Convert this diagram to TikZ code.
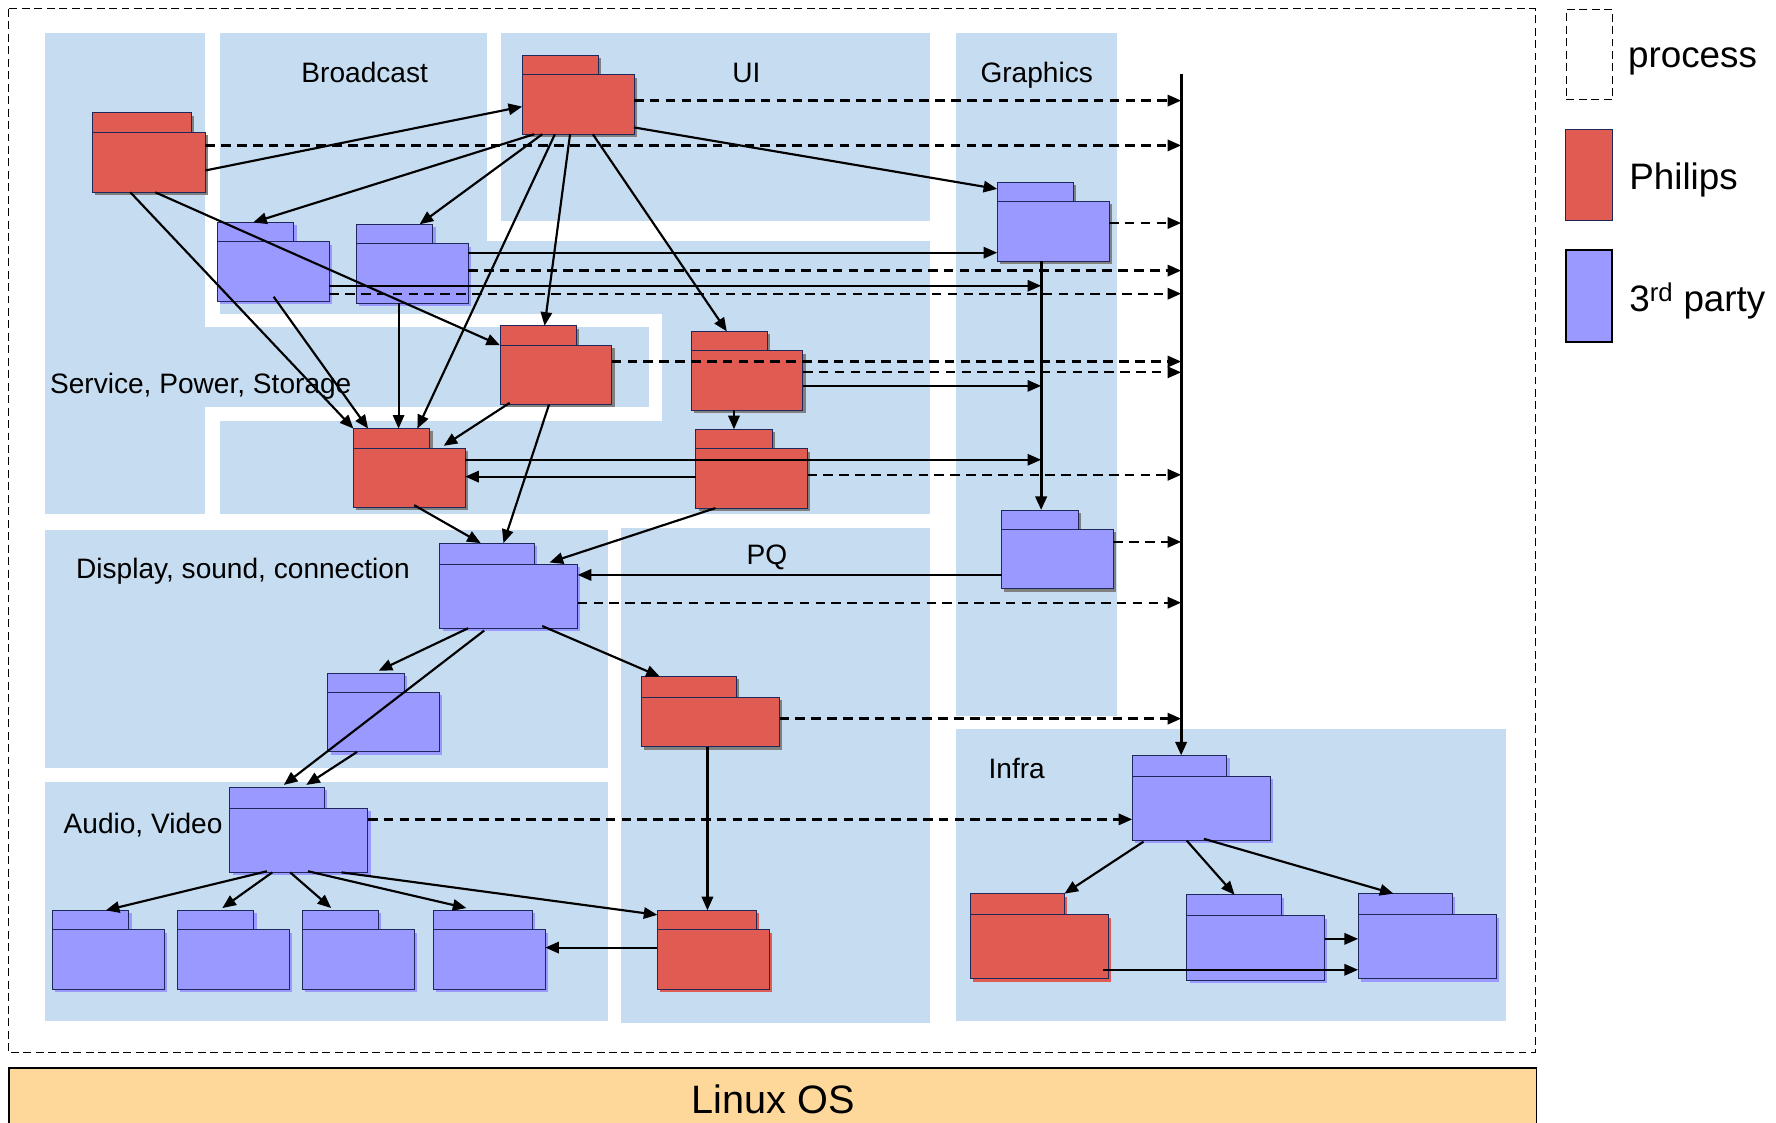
\documentclass[tikz,border=0pt]{standalone}
\usepackage{fontspec}
\setmainfont{Liberation Sans}
\usetikzlibrary{arrows.meta,calc,shadows}

\definecolor{areablue}{RGB}{198,220,240}
\definecolor{philred}{RGB}{224,92,82}
\definecolor{partyblue}{RGB}{153,153,255}
\definecolor{pkgline}{RGB}{30,40,90}
\definecolor{shadowgray}{RGB}{128,128,128}
\definecolor{osorange}{RGB}{253,216,154}

\begin{document}
\begin{tikzpicture}[x=1pt,y=-1pt,
    area/.style={fill=areablue},
    process/.style={draw=black, line width=0.9pt, dash pattern=on 7pt off 4pt},
    pkg/.style={draw=pkgline, line width=0.8pt, inner sep=0pt, outer sep=0pt, anchor=north west},
    phil/.style={pkg, fill=philred, drop shadow={shadow xshift=2.5pt, shadow yshift=-2.5pt, opacity=1, fill=#1}},
    phil/.default=shadowgray,
    party/.style={pkg, fill=partyblue, drop shadow={shadow xshift=2.5pt, shadow yshift=-2.5pt, opacity=1, fill=#1}},
    party/.default=partyblue,
    tab/.style={minimum width=67.5pt, minimum height=17.2pt},
    body/.style={minimum width=98.7pt, minimum height=52.4pt},
    widetab/.style={minimum width=83.4pt, minimum height=18.6pt},
    wide/.style={minimum width=121.8pt, minimum height=56.6pt},
    dep/.style={-{Triangle[length=12pt,width=10pt]}, line width=1.9pt},
    ipc/.style={dep, line width=2.1pt, dash pattern=on 8.5pt off 5.5pt},
    lbl/.style={inner sep=0pt, font=\fontsize{24.8}{29}\selectfont},
    leg/.style={inner sep=0pt, anchor=base west, font=\fontsize{32.5}{38}\selectfont},
    osbar/.style={draw=black, line width=1.6pt, fill=osorange, anchor=north west, inner sep=0pt,
      minimum width=1348.3pt, minimum height=55pt, text height=25pt, text depth=0pt,
      font=\fontsize{35}{40}\selectfont}]
  \useasboundingbox (0,0) rectangle (1568,991);

  \fill[area] (39.8,29) rectangle (181.3,454);
  \fill[area] (194,29) rectangle (430,277.5);
  \fill[area] (442,29) rectangle (821,195);
  \fill[area] (194,213) rectangle (821,454);
  \fill[white] (181.3,277.5) rectangle (584.4,371.4);
  \fill[area] (181.3,288.5) rectangle (572.6,359.4);
  \fill[area] (844,29) rectangle (986,632);
  \fill[area] (39.8,467.6) rectangle (536.8,678);
  \fill[area] (39.8,690.6) rectangle (536.8,901);
  \fill[area] (548.2,466) rectangle (821,903);
  \fill[area] (844,643.5) rectangle (1329.4,901);
  \draw[process] (7.1,7.9) rectangle (1355.8,929.3);

  \node[lbl, anchor=base] (lblBroadcast) at (322,73) {Broadcast};
  \node[lbl, anchor=base] (lblUi) at (659,73) {UI};
  \node[lbl, anchor=base] (lblGfx) at (915.3,73) {Graphics};
  \node[lbl, anchor=base west] (lblSps) at (44,347) {Service, Power, Storage};
  \node[lbl, anchor=base west] (lblDsc) at (67,510.7) {Display, sound, connection};
  \node[lbl, anchor=base west] (lblAv) at (56,735.8) {Audio, Video};
  \node[lbl, anchor=base] (lblPq) at (677,498.8) {PQ};
  \node[lbl, anchor=base west] (lblInfra) at (872.6,687.6) {Infra};

  \node[phil, tab, minimum width=87.4pt] (spsTab) at (81.6,99.6) {};
  \node[phil, body, minimum width=99.7pt, minimum height=53pt] (sps) at (spsTab.south west) {};
  \node[phil, tab] (uiMainTab) at (461,48.9) {};
  \node[phil, body] (uiMain) at (uiMainTab.south west) {};
  \node[party, tab] (bcATab) at (192,196.4) {};
  \node[party, body] (bcA) at (bcATab.south west) {};
  \node[party, tab] (bcBTab) at (314.5,198) {};
  \node[party, body] (bcB) at (bcBTab.south west) {};
  \node[phil, tab] (spsMidTab) at (441.4,287.6) {};
  \node[phil, body] (spsMid) at (spsMidTab.south west) {};
  \node[phil, tab] (spsLowTab) at (312,378.4) {};
  \node[phil, body] (spsLow) at (spsLowTab.south west) {};
  \node[phil, tab] (uiATab) at (610.2,292.6) {};
  \node[phil, body] (uiA) at (uiATab.south west) {};
  \node[phil, tab] (uiBTab) at (614.3,379) {};
  \node[phil, body] (uiB) at (uiBTab.south west) {};
  \node[party=shadowgray, tab] (gfxATab) at (880.4,160.8) {};
  \node[party=shadowgray, body] (gfxA) at (gfxATab.south west) {};
  \node[party=shadowgray, tab] (gfxBTab) at (884.2,450.3) {};
  \node[party=shadowgray, body] (gfxB) at (gfxBTab.south west) {};
  \node[party, widetab] (dscTab) at (388.2,479.5) {};
  \node[party, wide] (dsc) at (dscTab.south west) {};
  \node[party, tab] (dscBTab) at (289.3,594.2) {};
  \node[party, body] (dscB) at (dscBTab.south west) {};
  \node[party, widetab] (avTab) at (203,695) {};
  \node[party, wide] (av) at (avTab.south west) {};
  \node[party, tab] (avATab) at (46.1,803.7) {};
  \node[party, body] (avA) at (avATab.south west) {};
  \node[party, tab] (avBTab) at (156.5,803.7) {};
  \node[party, body] (avB) at (avBTab.south west) {};
  \node[party, tab] (avCTab) at (266.8,803.7) {};
  \node[party, body] (avC) at (avCTab.south west) {};
  \node[party, tab, minimum width=87.1pt] (avDTab) at (382.7,803.7) {};
  \node[party, body] (avD) at (avDTab.south west) {};
  \node[phil, widetab] (pqATab) at (566.5,597.3) {};
  \node[phil, wide, minimum height=43.4pt] (pqA) at (pqATab.south west) {};
  \node[phil=philred, tab, minimum width=87.5pt] (pqBTab) at (580.4,803.7) {};
  \node[phil=philred, body] (pqB) at (pqBTab.south west) {};
  \node[party, widetab] (infraTab) at (999.6,666.9) {};
  \node[party, wide] (infra) at (infraTab.south west) {};
  \node[phil=philred, widetab] (infraATab) at (856.4,789) {};
  \node[phil=philred, wide] (infraA) at (infraATab.south west) {};
  \node[party, widetab] (infraBTab) at (1047.7,790) {};
  \node[party, wide] (infraB) at (infraBTab.south west) {};
  \node[party, widetab] (infraCTab) at (1199,789) {};
  \node[party, wide] (infraC) at (infraCTab.south west) {};

  \coordinate (busTop) at (1042.8,65.6);
  \coordinate (gfxLine) at ($(gfxA.south west)+(38.8,0)$);
  \draw[dep, line width=2.6pt] (busTop) -- (busTop |- infraTab.north);
  \draw[dep, line width=2.5pt] (gfxLine) -- (gfxLine |- gfxBTab.north);

  \draw[dep] ($(sps.north east)+(0,33.7)$) -- ($(uiMain.north west)+(0,28)$);
  \draw[dep] ($(uiMain.north east)+(0,46.4)$) -- ($(gfxATab.north west)+(0,6)$);
  \draw[dep] ($(uiMain.south west)+(10.7,0)$) -- ($(bcATab.north west)+(31.5,0)$);
  \draw[dep] ($(uiMain.south west)+(17.8,0)$) -- ($(bcBTab.north west)+(56,0)$);
  \draw[dep] ($(uiMain.south west)+(28.9,0)$) -- ($(spsLowTab.north west)+(56.5,0)$);
  \draw[dep] ($(uiMain.south west)+(42.3,0)$) -- ($(spsMidTab.north west)+(39.4,0)$);
  \draw[dep] ($(uiMain.south west)+(62.4,0)$) -- ($(uiATab.north west)+(31.5,0)$);
  \draw[dep] ($(sps.south west)+(55.5,0)$) -- (spsMid.north west);
  \draw[dep] ($(sps.south west)+(33.5,0)$) -- (spsLowTab.north west);
  \draw[dep] ($(bcA.south west)+(49.6,-4)$) -- ($(spsLowTab.north west)+(13,0)$);
  \coordinate (bcBdown) at ($(bcB.south west)+(37.4,0)$);
  \draw[dep] (bcBdown) -- (bcBdown |- spsLowTab.north);
  \coordinate (bcBright) at ($(bcB.north east)+(0,7.9)$);
  \draw[dep] (bcBright) -- (bcBright -| gfxA.west);
  \coordinate (bcAright) at ($(bcA.north east)+(0,38.7)$);
  \draw[dep] (bcAright) -- (bcAright -| gfxLine);
  \coordinate (uiAright) at ($(uiA.north east)+(0,30.9)$);
  \draw[dep] (uiAright) -- (uiAright -| gfxLine);
  \coordinate (spsLowRight) at ($(spsLow.north east)+(0,10.3)$);
  \draw[dep] (spsLowRight) -- (spsLowRight -| gfxLine);
  \coordinate (uiBleft) at ($(uiB.north west)+(0,24.6)$);
  \draw[dep] (uiBleft) -- (uiBleft -| spsLow.east);
  \coordinate (uiAdown) at ($(uiA.south west)+(37.8,0)$);
  \draw[dep] (uiAdown) -- (uiAdown |- uiBTab.north);
  \draw[dep] ($(spsMid.south west)+(8.6,-1.5)$) -- ($(spsLow.north east)+(-19,-2)$);
  \draw[dep] ($(spsMid.south west)+(43.3,0)$) -- ($(dscTab.north west)+(56.3,0)$);
  \draw[dep] ($(spsLow.south west)+(53.7,-2)$) -- ($(dscTab.north west)+(36.2,0)$);
  \draw[dep] ($(uiB.south west)+(17.3,0)$) -- ($(dsc.north west)+(97,-1.5)$);
  \coordinate (gfxBleft) at ($(gfxB.north west)+(0,40.1)$);
  \draw[dep] (gfxBleft) -- (gfxBleft -| dsc.east);
  \draw[dep] ($(dsc.south west)+(25,0)$) -- ($(dscBTab.north west)+(45,-2)$);
  \draw[dep] ($(dsc.south west)+(39.3,2)$) -- ($(avTab.north west)+(47.6,-2)$);
  \draw[dep] ($(dscB.south west)+(26,0)$) -- ($(avTab.north west)+(67.4,-2)$);
  \draw[dep] ($(dsc.south west)+(90.5,-2)$) -- ($(pqATab.north west)+(16,0)$);
  \coordinate (pqAdown) at ($(pqA.south west)+(58.1,0)$);
  \draw[dep] (pqAdown) -- (pqAdown |- pqBTab.north);
  \draw[dep] ($(av.south west)+(32.7,-1)$) -- ($(avATab.north west)+(47.3,0)$);
  \draw[dep] ($(av.south west)+(37.4,0)$) -- ($(avBTab.north west)+(39.8,-2)$);
  \draw[dep] ($(av.south west)+(53.2,0)$) -- ($(avCTab.north west)+(25.6,-2)$);
  \draw[dep] ($(av.south west)+(68.9,-1)$) -- ($(avDTab.north west)+(29.1,-2)$);
  \draw[dep] ($(av.south west)+(98.5,0)$) -- ($(pqBTab.north west)+(0,4)$);
  \coordinate (pqBleft) at ($(pqB.north west)+(0,15.7)$);
  \draw[dep] (pqBleft) -- (pqBleft -| avD.east);
  \draw[dep] ($(infra.south west)+(10,1)$) -- (infraATab.north east);
  \draw[dep] ($(infra.south west)+(48.1,0)$) -- ($(infraBTab.north west)+(42.3,0)$);
  \draw[dep] ($(infra.south west)+(63.3,-1.5)$) -- ($(infraCTab.north west)+(31.3,0)$);
  \coordinate (infraBright) at ($(infraB.north east)+(0,20.3)$);
  \draw[dep] (infraBright) -- (infraBright -| infraC.west);
  \coordinate (infraAright) at ($(infraA.south east)+(-4,-8)$);
  \draw[dep] (infraAright) -- (infraAright -| infraC.west);

  \coordinate (uiMainOut) at ($(uiMain.north east)+(0,22.7)$);
  \draw[ipc] (uiMainOut) -- (uiMainOut -| busTop);
  \coordinate (spsOut) at ($(sps.north east)+(0,11.6)$);
  \draw[ipc] (spsOut) -- (spsOut -| busTop);
  \coordinate (gfxAOut) at ($(gfxA.north east)+(0,18.9)$);
  \draw[ipc] (gfxAOut) -- (gfxAOut -| busTop);
  \coordinate (bcBOut) at ($(bcB.north east)+(0,23.7)$);
  \draw[ipc] (bcBOut) -- (bcBOut -| busTop);
  \coordinate (bcAOut) at ($(bcA.north east)+(0,45.7)$);
  \draw[ipc] (bcAOut) -- (bcAOut -| busTop);
  \coordinate (spsMidOut) at ($(spsMid.north east)+(0,14.4)$);
  \draw[ipc] (spsMidOut) -- (spsMidOut -| busTop);
  \coordinate (uiAOut) at ($(uiA.north east)+(0,18.9)$);
  \draw[ipc] (uiAOut) -- (uiAOut -| busTop);
  \coordinate (uiBOut) at ($(uiB.north east)+(0,23)$);
  \draw[ipc] (uiBOut) -- (uiBOut -| busTop);
  \coordinate (gfxBOut) at ($(gfxB.north east)+(0,10.9)$);
  \draw[ipc] (gfxBOut) -- (gfxBOut -| busTop);
  \coordinate (dscOut) at ($(dsc.north east)+(0,34)$);
  \draw[ipc] (dscOut) -- (dscOut -| busTop);
  \coordinate (pqAOut) at ($(pqA.north east)+(0,18.6)$);
  \draw[ipc] (pqAOut) -- (pqAOut -| busTop);
  \coordinate (avOut) at ($(av.north east)+(0,9.8)$);
  \draw[ipc] (avOut) -- (avOut -| infra.west);

  \node[osbar] (linux) at (7.5,941.9) {Linux OS};

  \node[process, inner sep=0pt, anchor=north west, minimum width=40.9pt, minimum height=79.8pt] (legProc) at (1382.3,7.9) {};
  \node[pkg, fill=philred, minimum width=40.9pt, minimum height=80pt] (legPhil) at (1382.3,114.5) {};
  \node[pkg, draw=black, line width=1.8pt, fill=partyblue, minimum width=40.9pt, minimum height=81pt] (legParty) at (1382.3,220.7) {};
  \node[leg] (txtProc) at (1437.2,60) {process};
  \node[leg] (txtPhil) at (1438.3,167.1) {Philips};
  \node[leg] (txtParty) at (1438.3,275.3) {3\textsuperscript{rd} party};
\end{tikzpicture}
\end{document}
